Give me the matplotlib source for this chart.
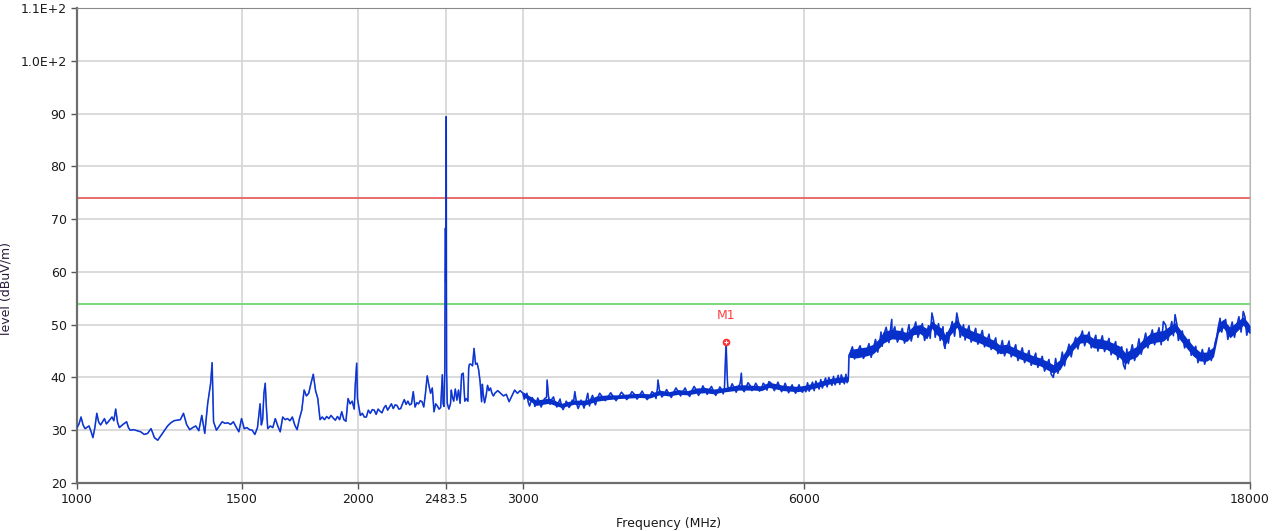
import matplotlib
matplotlib.use("Agg")
import matplotlib.pyplot as plt
import numpy as np

# limit lines (dBuV/m)
LIMIT_PEAK = 74.0
LIMIT_AVG = 54.0

# marker M1
m1_freq = 4950.0
m1_level = 46.8

x_ticks = [1000, 1500, 2000, 2483.5, 3000, 6000, 18000]
x_tick_labels = ["1000", "1500", "2000", "2483.5", "3000", "6000", "18000"]
y_ticks = [20, 30, 40, 50, 60, 70, 80, 90, 100, 110]
y_tick_labels = ["20", "30", "40", "50", "60", "70", "80", "90", "1.0E+2", "1.1E+2"]

# trace, 1000 - 2500 MHz
freq_a = [1000, 1005, 1010, 1015, 1020, 1030, 1035, 1040, 1045, 1050, 1055, 1060,
          1070, 1075, 1080, 1090, 1095, 1100, 1105, 1110, 1120, 1130, 1135, 1140,
          1150, 1160, 1170, 1180, 1190, 1200, 1205, 1210, 1220, 1230, 1240, 1250,
          1260, 1270, 1280, 1290, 1300, 1310, 1320, 1330, 1340, 1350, 1360, 1370,
          1380, 1390, 1395, 1400, 1410, 1420, 1430, 1440, 1450, 1460, 1470, 1480,
          1490, 1500, 1510, 1520, 1530, 1540, 1550, 1560, 1570, 1575, 1580, 1585,
          1590, 1595, 1600, 1610, 1620, 1630, 1640, 1650, 1660, 1670, 1680, 1690,
          1700, 1710, 1720, 1730, 1740, 1750, 1760, 1770, 1780, 1790, 1800, 1810,
          1820, 1830, 1840, 1850, 1860, 1870, 1880, 1890, 1900, 1910, 1920, 1930,
          1940, 1950, 1960, 1970, 1980, 1985, 1992, 1996, 2000, 2010, 2020, 2030,
          2040, 2050, 2060, 2070, 2080, 2090, 2100, 2110, 2120, 2130, 2140, 2150,
          2160, 2170, 2180, 2190, 2200, 2210, 2220, 2230, 2240, 2250, 2260, 2270,
          2280, 2290, 2300, 2310, 2320, 2330, 2340, 2350, 2360, 2370, 2380, 2390,
          2400, 2410, 2420, 2430, 2440, 2450, 2460, 2465, 2470, 2475, 2477, 2479,
          2481, 2483.5, 2486, 2490]
level_a = [30.5, 31.2, 32.5, 31.0, 30.3, 30.8, 29.8, 28.6, 30.5, 33.2, 31.5, 31.0,
           32.2, 31.2, 31.6, 32.5, 31.8, 34.0, 31.5, 30.5, 31.1, 31.6, 30.5, 30.0,
           30.1, 29.9, 29.7, 29.2, 29.4, 30.3, 29.5, 28.6, 28.1, 29.0, 29.9, 30.8,
           31.4, 31.8, 31.9, 32.0, 33.2, 31.1, 30.1, 30.5, 30.8, 29.9, 32.8, 29.4,
           35.1, 38.9, 42.8, 31.6, 30.0, 30.8, 31.6, 31.3, 31.4, 31.1, 31.6, 30.6,
           29.7, 32.2, 30.3, 30.5, 30.1, 30.0, 29.2, 30.5, 35.0, 31.0, 32.0, 37.0,
           38.9, 34.0, 30.3, 30.8, 30.5, 32.2, 30.8, 29.7, 32.5, 32.0, 32.2, 31.8,
           32.5, 31.0, 30.1, 32.2, 33.8, 37.6, 36.5, 37.0, 38.9, 40.6, 37.5, 36.0,
           32.0, 32.5, 32.0, 32.6, 32.2, 32.8, 32.3, 31.9, 32.6, 32.0, 33.5, 32.0,
           31.7, 36.0, 35.0, 35.5, 34.0, 38.5, 42.7, 36.0, 35.0, 32.8, 33.2, 32.5,
           32.5, 33.8, 33.2, 33.9, 33.8, 33.0, 34.0, 33.6, 33.3, 34.2, 34.7, 33.8,
           34.4, 35.0, 34.1, 34.8, 34.7, 34.0, 34.1, 35.0, 35.8, 34.9, 35.5, 34.8,
           35.0, 37.3, 34.4, 35.2, 35.0, 35.6, 35.4, 34.4, 37.0, 40.3, 38.5, 37.0,
           38.0, 33.5, 35.0, 34.6, 34.0, 34.3, 40.5, 35.0, 34.5, 41.4, 58.5, 68.3,
           58.0, 89.4, 41.0, 35.1]

# trace, 2500 - 6700 MHz
freq_b = [2500, 2510, 2515, 2520, 2530, 2540, 2550, 2560, 2570, 2580, 2590, 2600,
          2610, 2620, 2625, 2630, 2640, 2650, 2660, 2670, 2680, 2690, 2700, 2710,
          2715, 2720, 2730, 2740, 2750, 2760, 2770, 2780, 2790, 2800, 2820, 2840,
          2860, 2880, 2900, 2920, 2940, 2960, 2980, 3000, 3020, 3040, 3060, 3080,
          3100, 3125, 3150, 3180, 3185, 3195, 3220, 3250, 3275, 3300, 3325, 3350,
          3375, 3400, 3410, 3425, 3450, 3475, 3500, 3520, 3550, 3575, 3600, 3650,
          3700, 3750, 3800, 3850, 3900, 3950, 4000, 4050, 4100, 4150, 4180, 4185,
          4200, 4250, 4300, 4350, 4400, 4450, 4500, 4550, 4600, 4650, 4700, 4750,
          4800, 4850, 4900, 4930, 4950, 4960, 4970, 5000, 5050, 5100, 5140, 5150,
          5200, 5250, 5300, 5350, 5400, 5450, 5500, 5550, 5600, 5650, 5700, 5750,
          5800, 5850, 5900, 5950, 6000, 6100, 6200, 6300, 6400, 6500, 6600, 6690]
level_b = [34.0, 35.0, 37.6, 36.5, 35.5, 37.8, 35.7, 37.6, 35.1, 40.6, 40.8, 35.5,
           36.0, 35.5, 41.7, 42.5, 42.5, 42.2, 45.5, 42.5, 42.7, 41.5, 39.2, 35.4,
           38.7, 37.0, 35.2, 36.5, 38.5, 37.5, 38.0, 37.0, 36.5, 37.0, 37.5, 37.0,
           36.5, 36.8, 35.4, 36.5, 37.6, 37.0, 37.5, 37.0, 36.3, 35.3, 35.4, 35.6,
           35.0, 35.4, 35.1, 36.2, 39.5, 36.5, 35.8, 35.0, 35.2, 34.6, 34.5, 35.1,
           34.8, 35.5, 37.3, 35.0, 34.8, 35.0, 35.2, 37.0, 36.0, 35.4, 35.8, 36.3,
           36.3, 36.3, 36.4, 36.6, 36.4, 36.8, 36.6, 36.5, 36.4, 36.9, 38.0, 39.5,
           37.6, 36.8, 36.9, 37.2, 37.3, 37.3, 37.0, 37.5, 37.6, 37.3, 37.6, 37.7,
           37.3, 37.3, 37.6, 38.0, 46.8, 41.7, 38.2, 37.9, 38.0, 38.1, 40.8, 37.9,
           38.1, 38.5, 38.0, 38.3, 37.9, 38.5, 39.2, 38.3, 38.3, 38.2, 37.9, 38.0,
           37.9, 37.6, 37.9, 37.5, 38.0, 38.3, 38.6, 39.0, 39.3, 39.5, 39.6, 39.8]

# ripple peaks/dips between the points above, 3000 - 6700 MHz
ripple_freq_b = [3010, 3030, 3050, 3070, 3090, 3112, 3138, 3165, 3208, 3235, 3262,
                 3288, 3312, 3338, 3362, 3388, 3438, 3462, 3488, 3510, 3535, 3562,
                 3588, 3625, 3675, 3725, 3775, 3825, 3875, 3925, 3975, 4025, 4075,
                 4125, 4165, 4225, 4275, 4325, 4375, 4425, 4475, 4525, 4575, 4625,
                 4675, 4725, 4775, 4825, 4875, 4915, 5025, 5075, 5125, 5175, 5225,
                 5275, 5325, 5375, 5425, 5475, 5525, 5575, 5625, 5675, 5725, 5775,
                 5825, 5875, 5925, 5975, 6025, 6050, 6075, 6125, 6150, 6175, 6225,
                 6250, 6275, 6325, 6350, 6375, 6425, 6450, 6475, 6525, 6550, 6575,
                 6625, 6650, 6670]
ripple_level_b = [35.9, 37.0, 34.6, 36.2, 34.5, 36.1, 34.4, 36.0, 34.9, 36.3, 34.4,
                  35.9, 33.9, 35.5, 34.3, 35.7, 34.1, 35.7, 34.2, 36.0, 34.6, 36.6,
                  34.8, 37.0, 35.6, 37.1, 35.6, 37.2, 35.8, 37.3, 35.9, 37.4, 35.8,
                  37.3, 36.0, 36.3, 37.7, 36.2, 38.0, 36.5, 38.0, 36.4, 38.3, 36.6,
                  38.4, 36.8, 38.3, 36.6, 38.2, 36.9, 38.8, 37.2, 38.9, 37.3, 39.0,
                  37.5, 38.9, 37.4, 38.9, 37.6, 39.0, 37.5, 39.1, 37.3, 38.9, 37.1,
                  38.6, 37.0, 38.6, 37.2, 37.3, 39.0, 37.4, 39.1, 37.5, 39.3, 37.8,
                  39.6, 38.0, 39.9, 38.2, 40.0, 38.5, 40.2, 38.6, 40.4, 38.7, 40.5,
                  38.8, 40.6, 39.0]

# trace, 6700 - 18000 MHz (middle of the noise band plus the spikes)
freq_c = [6700, 6720, 6830, 7000, 7115, 7230, 7293, 7445, 7450, 7600, 7725, 7855,
          7985, 8117, 8220, 8320, 8425, 8490, 8596, 8740, 8850, 8956, 9105, 9255,
          9410, 9565, 9723, 9885, 10049, 10215, 10384, 10556, 10730, 10908, 11088,
          11272, 11461, 11650, 11845, 12040, 12240, 12441, 12647, 12853, 13068,
          13231, 13395, 13617, 13842, 14073, 14305, 14541, 14783, 14965, 15150,
          15404, 15658, 15920, 16184, 16451, 16653, 16856, 17134, 17417, 17705,
          17930, 18000]
level_c = [44.2, 44.6, 44.6, 44.9, 45.5, 46.8, 47.8, 51.0, 48.1, 48.1, 47.8, 49.0,
           49.0, 48.4, 52.2, 49.0, 48.4, 45.5, 49.0, 52.2, 48.7, 48.4, 47.8, 47.5,
           46.8, 46.2, 45.2, 45.5, 44.9, 44.3, 43.9, 43.3, 43.0, 42.4, 40.0,
           42.4, 44.6, 46.2, 47.5, 47.5, 46.5, 46.5, 46.2, 45.5, 44.9,
           41.6, 44.3, 44.9, 46.5, 47.5, 47.8, 50.6, 49.0, 51.9, 48.1,
           46.5, 44.9, 43.9, 43.9, 44.9, 49.7, 50.3, 48.7, 49.7, 52.5,
           49.4, 49.0]

# ripple peaks/dips, 6700 - 18000 MHz
ripple_freq_c = [6757, 6793, 6887, 6943, 7038, 7077, 7153, 7192, 7251, 7272, 7344,
                 7394, 7500, 7550, 7642, 7683, 7768, 7812, 7898, 7942, 8029, 8073,
                 8151, 8186, 8253, 8287, 8355, 8390, 8447, 8468, 8525, 8561, 8644,
                 8692, 8777, 8813, 8885, 8921, 9006, 9055, 9155, 9205, 9307, 9358,
                 9462, 9513, 9618, 9670, 9777, 9831, 9940, 9994, 10104, 10160, 10271,
                 10328, 10441, 10499, 10614, 10672, 10789, 10849, 10968, 11028, 11149,
                 11211, 11335, 11398, 11524, 11587, 11715, 11780, 11910, 11975, 12107,
                 12173, 12307, 12374, 12510, 12578, 12716, 12784, 12925, 12996, 13122,
                 13177, 13286, 13340, 13469, 13543, 13692, 13767, 13919, 13996, 14150,
                 14228, 14384, 14462, 14622, 14702, 14844, 14904, 15027, 15088, 15235,
                 15319, 15489, 15573, 15745, 15833, 16008, 16096, 16273, 16362, 16518,
                 16586, 16721, 16788, 16949, 17041, 17228, 17323, 17513, 17609, 17780,
                 17855]
ripple_level_c = [45.8, 43.5, 46.0, 43.6, 46.4, 43.8, 47.2, 44.8, 48.6, 45.9, 49.5,
                  46.6, 49.6, 46.7, 49.3, 46.5, 50.0, 46.9, 50.5, 47.6, 50.2, 47.0,
                  49.8, 47.4, 50.8, 47.6, 50.2, 47.0, 49.6, 46.2, 48.5, 46.5, 50.6,
                  47.8, 50.5, 47.6, 50.0, 47.1, 49.8, 46.7, 49.3, 46.3, 48.9, 45.8,
                  48.2, 45.3, 47.5, 44.5, 47.0, 44.1, 46.9, 43.9, 46.2, 43.2, 45.6,
                  42.8, 45.1, 42.3, 44.6, 41.9, 44.0, 41.2, 43.4, 40.6, 43.6,
                  40.8, 44.8, 42.2, 46.3, 43.9, 47.6, 45.4, 48.8, 46.0, 48.6,
                  45.6, 48.0, 45.0, 47.9, 44.9, 47.4, 44.3, 46.8, 43.4, 45.8,
                  42.4, 45.4, 42.6, 46.2, 43.2, 47.3, 44.4, 48.4, 45.6, 49.0,
                  46.2, 49.4, 46.2, 49.9, 47.0, 50.6, 47.9, 50.2, 47.0, 48.8,
                  45.6, 47.2, 44.2, 45.9, 42.8, 45.3, 42.5, 45.6, 43.2, 46.6,
                  47.8, 51.2, 48.6, 51.0, 47.2, 50.5, 47.6, 51.5, 48.6, 51.4,
                  48.0]

# noise band envelope (dense core of the trace), 3000 - 18000 MHz
band_freq = [3000, 3100, 3200, 3300, 3400, 3500, 3600, 3700, 3800, 3900, 4000, 4100,
             4200, 4300, 4400, 4500, 4600, 4700, 4800, 4900, 5000, 5100, 5200, 5300,
             5400, 5500, 5600, 5700, 5800, 5900, 6000, 6100, 6200, 6300, 6400, 6500,
             6600, 6690, 6700, 6720, 6830, 7000, 7115, 7230, 7293, 7445, 7600, 7725,
             7855, 7985, 8117, 8220, 8320, 8425, 8490, 8596, 8740, 8850, 8956, 9105,
             9255, 9410, 9565, 9723, 9885, 10049, 10215, 10384, 10556, 10730, 10908,
             11088, 11272, 11461, 11650, 11845, 12040, 12240, 12441, 12647, 12853,
             13068, 13231, 13395, 13617, 13842, 14073, 14305, 14541, 14783, 14965,
             15150, 15404, 15658, 15920, 16184, 16451, 16653, 16856, 17134, 17417,
             17705, 17930, 18000]
band_lo = [36.5, 34.7, 35.1, 34.3, 34.9, 34.8, 35.5, 35.8, 36.0, 36.1, 36.2, 36.1,
           36.7, 36.5, 36.8, 36.7, 37.0, 37.1, 36.9, 37.2, 37.4, 37.6, 37.6, 37.6,
           37.5, 38.1, 37.8, 37.5, 37.4, 37.3, 37.5, 37.8, 38.1, 38.5, 38.8, 39.0,
           39.1, 39.3, 43.8, 43.8, 43.7, 44.1, 44.5, 45.7, 46.5, 47.3, 47.2, 46.8,
           48.1, 48.3, 47.3, 49.3, 48.1, 47.1, 46.1, 48.0, 49.5, 47.9, 47.5, 46.9,
           46.5, 45.9, 45.4, 44.5, 44.7, 44.1, 43.5, 43.1, 42.5, 42.2, 41.5,
           40.8, 41.5, 43.7, 45.3, 46.5, 46.7, 45.6, 45.5, 45.3, 44.5,
           43.7, 42.5, 43.4, 43.9, 45.5, 46.4, 46.7, 46.9, 48.0, 48.7,
           47.1, 45.5, 44.0, 43.1, 43.1, 43.9, 48.5, 49.4, 47.5, 48.7,
           49.9, 48.5, 48.3]
band_hi = [37.3, 35.7, 36.1, 35.1, 35.7, 35.7, 36.5, 36.7, 36.7, 36.9, 37.0, 36.9,
           37.6, 37.3, 37.7, 37.5, 38.0, 38.1, 37.8, 38.0, 38.3, 38.6, 38.6, 38.5,
           38.4, 39.1, 38.8, 38.5, 38.4, 38.3, 38.5, 38.8, 39.1, 39.5, 39.8, 40.0,
           40.1, 40.3, 44.7, 45.3, 45.5, 45.8, 46.3, 47.5, 48.7, 49.1, 48.9, 48.5,
           49.8, 50.0, 49.3, 50.7, 49.9, 49.3, 48.1, 49.7, 51.0, 49.6, 49.3, 48.7,
           48.3, 47.6, 47.1, 46.1, 46.3, 45.7, 45.1, 44.6, 44.1, 43.7, 43.1,
           42.4, 43.4, 45.4, 46.9, 48.2, 48.2, 47.4, 47.3, 47.0, 46.5,
           45.9, 44.7, 45.2, 45.9, 47.3, 48.3, 48.7, 48.9, 49.8, 50.4,
           49.1, 47.4, 45.9, 44.8, 44.8, 45.8, 50.3, 51.0, 49.5, 50.5,
           51.5, 50.3, 49.8]


def main():
    freq = np.array(freq_a + freq_b + ripple_freq_b + freq_c + ripple_freq_c,
                    dtype=float)
    level = np.array(level_a + level_b + ripple_level_b + level_c + ripple_level_c,
                     dtype=float)
    order = np.argsort(freq, kind="stable")
    freq = freq[order]
    level = level[order]

    fig = plt.figure(figsize=(12.75, 5.31), dpi=100)
    ax = fig.add_axes([0.0604, 0.0904, 0.9200, 0.8946])

    ax.set_xscale("log")
    ax.set_xlim(1000, 18000)
    ax.set_ylim(20, 110)

    # grid
    ax.set_xticks(x_ticks)
    ax.set_xticklabels(x_tick_labels)
    ax.xaxis.set_minor_locator(matplotlib.ticker.NullLocator())
    ax.set_yticks(y_ticks)
    ax.set_yticklabels(y_tick_labels)
    ax.grid(True, color="#d4d4d4", linewidth=1.2)
    ax.set_axisbelow(True)

    # limit lines
    ax.axhline(LIMIT_PEAK, color="#e86060", linewidth=1.3)
    ax.axhline(LIMIT_AVG, color="#7fd87f", linewidth=1.5)

    # trace
    ax.plot(freq, level, color="#4a6de0", linewidth=1.2, zorder=3)
    ax.fill_between(band_freq, band_lo, band_hi, color="#0630c8",
                    linewidth=0, zorder=4)
    ax.plot(freq, level, color="#0a30d0", linewidth=0.8, zorder=5)

    # marker
    ax.plot([m1_freq], [m1_level], marker="o", markersize=4.5, color="#ff3030",
            zorder=6)
    ax.plot([m1_freq], [m1_level], marker="+", markersize=3, color="white",
            markeredgewidth=0.8, zorder=7)
    ax.text(m1_freq, m1_level + 5.0, "M1", color="#ff4040", fontsize=9,
            ha="center", va="center")

    for side in ["left", "bottom"]:
        ax.spines[side].set_color("#6e6e6e")
        ax.spines[side].set_linewidth(1.6)
    ax.spines["top"].set_color("#8a8a8a")
    ax.spines["right"].set_color("#b8b8b8")

    ax.tick_params(axis="both", direction="out", length=4, width=1,
                   color="#555555", labelsize=9, labelcolor="#1a1a1a")

    ax.set_xlabel("Frequency (MHz)", fontsize=9, color="#1a1a1a")
    ax.xaxis.set_label_coords(0.504, -0.072)
    ax.set_ylabel("level (dBuV/m)", fontsize=9, color="#2a1a3a")
    ax.yaxis.set_label_coords(-0.055, 0.41)

    fig.savefig("out.png", dpi=100)


if __name__ == "__main__":
    main()
